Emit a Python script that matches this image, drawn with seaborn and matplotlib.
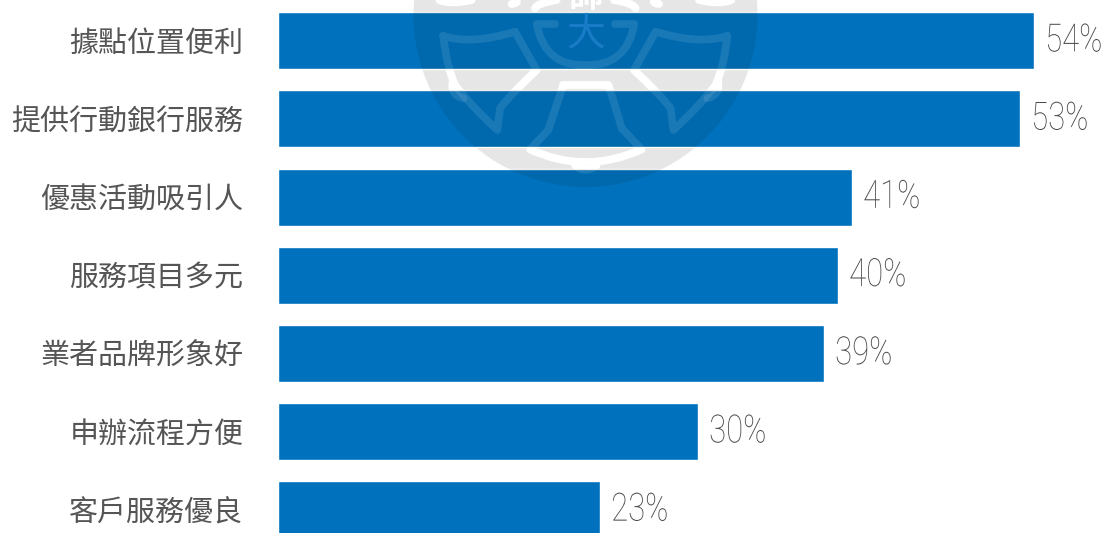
import matplotlib
matplotlib.use("Agg")
import matplotlib.pyplot as plt
import matplotlib.patheffects as pe
import pandas as pd
import seaborn as sns
from matplotlib.patches import Circle, PathPatch
from matplotlib.path import Path
from matplotlib.transforms import Affine2D

# Survey results: reasons for choosing a bank
reasons = ["據點位置便利", "提供行動銀行服務", "優惠活動吸引人", "服務項目多元",
           "業者品牌形象好", "申辦流程方便", "客戶服務優良"]
shares = [54, 53, 41, 40, 39, 30, 23]

W, H = 1109, 533
BLUE = "#0071BC"
CJK = ["Noto Sans CJK TC", "DejaVu Sans"]

sns.set_theme(style="white")
plt.rcParams["font.family"] = CJK

fig = plt.figure(figsize=(W / 100, H / 100), dpi=100, facecolor="white")
ax = fig.add_axes([278 / W, 0, (W - 278) / W, 1])
ax.patch.set_alpha(0)

df = pd.DataFrame({"reason": reasons, "share": shares})
sns.barplot(data=df, x="share", y="reason", orient="h", color=BLUE,
            saturation=1, width=0.73, ax=ax, zorder=3)

px_per_pct = 14.0
row_h = 78.2
ax.set_xlim(0, (W - 278) / px_per_pct)
ax.set_ylim((H - 40.7) / row_h, -40.7 / row_h)
ax.set_xlabel("")
ax.set_ylabel("")
ax.set_xticks([])
ax.tick_params(axis="y", length=0, pad=25)
for label in ax.get_yticklabels():
    label.set_fontsize(20.9)
    label.set_color("#555555")
sns.despine(ax=ax, left=True, bottom=True)


class Condensed(pe.AbstractPathEffect):
    """Narrows text horizontally, for a condensed look from a regular face."""

    def __init__(self, factor):
        super().__init__()
        self.factor = factor

    def draw_path(self, renderer, gc, tpath, affine, rgbFace=None):
        renderer.draw_path(gc, tpath, Affine2D().scale(self.factor, 1) + affine, rgbFace)


for container in ax.containers:
    texts = ax.bar_label(container, labels=[f"{v}%" for v in shares], padding=8,
                         fontsize=28, color="#4A4A4A", family="Roboto", fontweight="light")
    for t in texts:
        t.set_path_effects([Condensed(0.8)])

# University emblem behind the chart, laid out in pixel coordinates
to_px = Affine2D().scale(1, -1).translate(0, H)
M, L, Q = Path.MOVETO, Path.LINETO, Path.CURVE3


def scaled(x, y):
    return (400 + x / 3, y / 3)


def stroke(points, codes):
    return Path([scaled(*p) for p in points], codes)


def mirrored(points):
    return [(1112 - x, y) for x, y in points]


wing_pts = [(130, 108), (215, 135), (345, 95), (410, 210), (330, 285), (300, 325),
            (292, 390), (215, 320), (165, 255), (140, 200), (130, 108)]
wing_codes = [M, Q, Q, L, Q, Q, L, Q, Q, Q, Q]
lug_pts = [(158, 245), (150, 285), (190, 295)]
lug_codes = [M, Q, Q]
bell_pts = [(490, 255), (625, 255), (650, 330), (665, 385), (725, 448), (556, 525),
            (390, 448), (445, 390), (465, 330), (490, 255)]
bell_codes = [M, L, Q, Q, L, Q, Q, L, Q, Q]
clapper_pts = [(525, 495), (556, 525), (590, 495)]
bowl_pts = [(465, 72), (410, 72), (435, 200), (556, 195), (680, 200), (703, 72), (645, 72)]
bowl_codes = [M, L, Q, Q, Q, Q, L]
crown_strokes = [[(118, 0), (150, 15), (215, 0)], [(335, 12), (360, 8), (345, 0)],
                 [(405, 25), (410, 10), (470, 0)]]

paths = [stroke(wing_pts, wing_codes), stroke(mirrored(wing_pts), wing_codes),
         stroke(lug_pts, lug_codes), stroke(mirrored(lug_pts), lug_codes),
         stroke(bell_pts, bell_codes), stroke(clapper_pts, lug_codes),
         stroke(bowl_pts, bowl_codes)]
for seg in crown_strokes:
    paths.append(stroke(seg, lug_codes))
    paths.append(stroke(mirrored(seg), lug_codes))


def draw_emblem(fill, fill_alpha, line, line_alpha, zorder, clip=None):
    disc = Circle((585.5, 15), 172, transform=to_px, facecolor=fill, edgecolor="none",
                  alpha=fill_alpha, zorder=zorder)
    ax.add_patch(disc)
    artists = [disc]
    for p in paths:
        artists.append(ax.add_patch(PathPatch(p, transform=to_px, facecolor="none",
                                              edgecolor=line, alpha=line_alpha, lw=5.6,
                                              capstyle="round", joinstyle="round",
                                              zorder=zorder + 0.1)))
    if clip is not None:
        for a in artists:
            a.set_clip_path(clip)


# Opaque layer under the bars, tinted layer on top of each bar
draw_emblem("#E6E6E6", 1, "white", 1, 1)
ax.text(585.5, -3, "師", transform=to_px, ha="center", va="center", fontsize=25,
        color="white", fontweight="bold", zorder=1.2, clip_on=True)
for bar in list(ax.containers[0]):
    draw_emblem("black", 0.07, "white", 0.1, 4, clip=bar)
ax.text(585.5, 34, "大", transform=to_px, ha="center", va="center", fontsize=28,
        color="#1A7CC6", zorder=4.2)

fig.savefig("out.png", dpi=100, facecolor="white")
